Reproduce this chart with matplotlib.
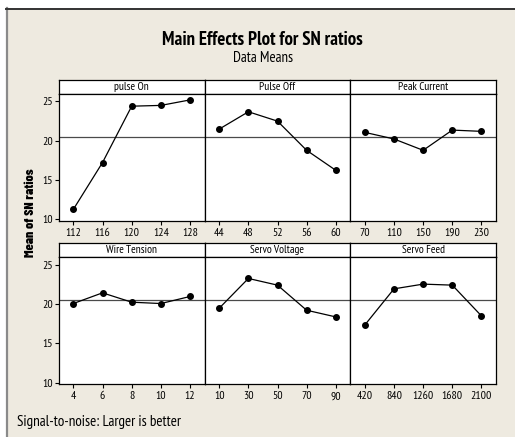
import numpy as np
import matplotlib
matplotlib.use("Agg")
import matplotlib.pyplot as plt
from matplotlib.patches import Rectangle
from matplotlib.lines import Line2D

# factor names, levels and mean S/N ratio at each level
factors = ["pulse On", "Pulse Off", "Peak Current",
           "Wire Tension", "Servo Voltage", "Servo Feed"]
pulse_on_levels = ["112", "116", "120", "124", "128"]
pulse_off_levels = ["44", "48", "52", "56", "60"]
peak_current_levels = ["70", "110", "150", "190", "230"]
wire_tension_levels = ["4", "6", "8", "10", "12"]
servo_voltage_levels = ["10", "30", "50", "70", "90"]
servo_feed_levels = ["420", "840", "1260", "1680", "2100"]

pulse_on_sn = [11.27, 17.23, 24.40, 24.50, 25.20]
pulse_off_sn = [21.49, 23.69, 22.50, 18.79, 16.25]
peak_current_sn = [21.07, 20.23, 18.79, 21.36, 21.20]
wire_tension_sn = [20.07, 21.43, 20.24, 20.07, 20.97]
servo_voltage_sn = [19.48, 23.26, 22.41, 19.22, 18.37]
servo_feed_sn = [17.35, 21.94, 22.54, 22.41, 18.50]

y_ticks = [10, 15, 20, 25]

levels = [pulse_on_levels, pulse_off_levels, peak_current_levels,
          wire_tension_levels, servo_voltage_levels, servo_feed_levels]
means = [pulse_on_sn, pulse_off_sn, peak_current_sn,
         wire_tension_sn, servo_voltage_sn, servo_feed_sn]
grand_mean = np.mean([np.mean(m) for m in means])

W, H = 515, 437
BG = "#EEEAE0"
NARROW = ["PT Sans Narrow", "Archivo Narrow", "DejaVu Sans"]
HEAVY = ["Barlow Condensed", "PT Sans Narrow", "DejaVu Sans"]

fig = plt.figure(figsize=(W / 100, H / 100), dpi=100)
fig.patch.set_facecolor("white")

# beige panel with its frame lines
fig.patches.append(Rectangle((7 / W, 0), 1, 1 - 8 / H, transform=fig.transFigure,
                             facecolor=BG, edgecolor="none", zorder=-10))
fig.lines.append(Line2D([6.5 / W, 6.5 / W], [0, 1 - 8 / H], transform=fig.transFigure,
                        color="#8a8a8a", lw=1.6))
fig.lines.append(Line2D([6 / W, 1], [1 - 8.5 / H, 1 - 8.5 / H], transform=fig.transFigure,
                        color="#333333", lw=1.4))


def box(x0, y0, x1, y1):
    return [x0 / W, 1 - y1 / H, (x1 - x0) / W, (y1 - y0) / H]


def fit(t, target_px):
    # scale a text's font size so it spans target_px
    r = fig.canvas.get_renderer()
    ext = t.get_window_extent(r)
    size = ext.height if t.get_rotation() == 90 else ext.width
    t.set_fontsize(t.get_fontsize() * target_px / size)


col_edges = [58.7, 204.7, 350.3, 496.0]
rows = [(79.5, 94.0, 221.0), (243.0, 257.3, 384.3)]

for i, (name, labs, vals) in enumerate(zip(factors, levels, means)):
    r, c = divmod(i, 3)
    x0, x1 = col_edges[c], col_edges[c + 1]
    h_top, p_top, p_bot = rows[r]

    # header strip
    hx = fig.add_axes(box(x0, h_top, x1, p_top))
    hx.set_facecolor("white")
    hx.set_xticks([])
    hx.set_yticks([])
    for s in hx.spines.values():
        s.set_linewidth(0.9)
    hx.text(0.5, 0.5, name, ha="center", va="center", fontsize=8.2,
            family=NARROW, transform=hx.transAxes)

    ax = fig.add_axes(box(x0, p_top, x1, p_bot))
    ax.set_facecolor("white")
    x = np.arange(len(vals))
    ax.axhline(grand_mean, color="#4a4a4a", lw=0.9, zorder=1)
    ax.plot(x, vals, color="black", lw=0.9, marker="o", markersize=4.0, zorder=3)
    ax.set_xlim(-0.5, len(vals) - 0.5)
    ax.set_ylim(9.8, 25.95)
    ax.set_xticks(x)
    ax.set_xticklabels(labs, family=NARROW, fontsize=8.5)
    ax.set_yticks(y_ticks)
    if c == 0:
        ax.set_yticklabels([str(t) for t in y_ticks], family=NARROW, fontsize=8.5)
        ax.tick_params(axis="y", length=3, width=0.8, pad=1)
    else:
        ax.tick_params(axis="y", left=False, labelleft=False)
    ax.tick_params(axis="x", length=3, width=0.8, pad=2)
    for s in ax.spines.values():
        s.set_linewidth(0.9)

title = fig.text(262.7 / W, 1 - 40 / H, "Main Effects Plot for SN ratios", ha="center",
                 va="center", fontsize=11.5, fontweight="bold", family=NARROW)
sub = fig.text(262.7 / W, 1 - 58.3 / H, "Data Means", ha="center", va="center",
               fontsize=9, family=NARROW)
ylab = fig.text(30 / W, 1 - 212.5 / H, "Mean of SN ratios", ha="center", va="center",
                rotation=90, fontsize=9.5, fontweight=800, family=HEAVY)
foot = fig.text(17 / W, 1 - 421.7 / H, "Signal-to-noise: Larger is better", ha="left",
                va="center", fontsize=9.5, family=NARROW)
fit(title, 200)
fit(sub, 60)
fit(ylab, 89)
fit(foot, 164)

fig.savefig("out.png", dpi=100, facecolor=fig.get_facecolor())
